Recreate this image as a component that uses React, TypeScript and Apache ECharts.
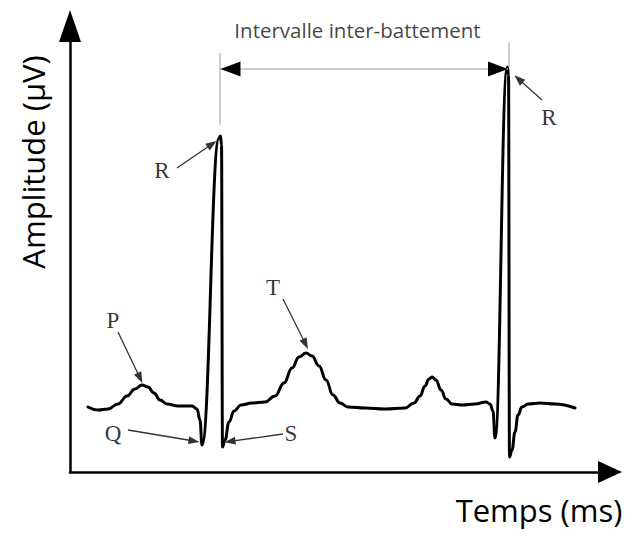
import React, { useEffect, useRef } from "react";
import * as echarts from "echarts";

// ECG trace (time in ms, amplitude in µV)
const timeMs = [
  36, 56, 76, 96, 114, 130, 144, 156, 168, 180, 194, 216, 244, 254, 260, 264,
  298, 301, 303, 305, 310, 318, 328, 342, 364, 390, 410, 428, 444, 458, 472,
  484, 498, 512, 526, 540, 556, 590, 630, 670, 688, 700, 710, 718, 724, 732,
  742, 752, 764, 784, 810, 832, 840, 846, 850, 874, 875, 877, 879, 884, 890,
  896, 904, 916, 940, 970, 1010,
];
const amplitudeUv = [
  0, -15, -10, 15, 55, 90, 110, 100, 70, 35, 15, 5, 5, -10, -65, -190, 1345,
  1355, 1310, -200, -165, -75, -20, 10, 20, 25, 55, 120, 195, 250, 270, 255,
  205, 135, 60, 20, 0, -5, -10, -5, 20, 55, 105, 140, 150, 135, 85, 40, 15,
  10, 15, 25, 15, -20, -155, 1685, 1700, 1660, -250, -215, -125, -40, 0, 15,
  20, 15, -5,
];

// Wave labels
const waveNames = ["P", "R", "T", "Q", "S", "R"];
const waveLabelX = [86, 184, 406, 86, 442, 958];
const waveLabelY = [435, 1185, 600, -130, -130, 1450];
// Pointer arrows (start -> tip)
const arrowStartX = [96, 214, 426, 116, 426, 944];
const arrowStartY = [375, 1195, 540, -115, -135, 1535];
const arrowTipX = [140, 284, 471, 248, 320, 897];
const arrowTipY = [145, 1315, 315, -170, -172, 1640];

// Inter-beat interval
const intervalTitle = "Intervalle inter-battement";
const intervalStartX = 301;
const intervalEndX = 876;
const intervalY = 1690;
const guideTopY = [1770, 1825];
const guideBottomY = [1410, 1700];
const intervalTitlePos = [575, 1885];

const X_MIN = 0;
const X_MAX = 1080;
const Y_MIN = -325;
const Y_MAX = 1905;

export default function App() {
  const ref = useRef<HTMLDivElement>(null);
  useEffect(() => {
    if (!ref.current) return;
    const chart = echarts.init(ref.current, null, { renderer: "svg" });
    const ecg = timeMs.map((t, i) => [t, amplitudeUv[i]]);
    const pointers = arrowStartX.map((x, i) => [
      { coord: [x, arrowStartY[i]], symbol: "none" },
      {
        coord: [arrowTipX[i], arrowTipY[i]],
        symbol: "triangle",
        symbolSize: [8, 11],
      },
    ]);
    const labels = waveNames.map((n, i) => ({
      name: n,
      value: [waveLabelX[i], waveLabelY[i]],
    }));
    const headStyle = { lineStyle: { color: "#000", width: 1 } };
    chart.setOption({
      animation: false,
      grid: { left: 70, right: 19, top: 26, bottom: 64 },
      xAxis: {
        type: "value",
        min: X_MIN,
        max: X_MAX,
        axisLine: {
          show: true,
          onZero: false,
          symbol: ["none", "triangle"],
          symbolSize: [22, 24],
          lineStyle: { color: "#000", width: 2.5 },
        },
        axisTick: { show: false },
        axisLabel: { show: false },
        splitLine: { show: false },
      },
      yAxis: {
        type: "value",
        min: Y_MIN,
        max: Y_MAX,
        axisLine: {
          show: true,
          onZero: false,
          symbol: ["none", "triangle"],
          symbolSize: [22, 32],
          lineStyle: { color: "#000", width: 2.5 },
        },
        axisTick: { show: false },
        axisLabel: { show: false },
        splitLine: { show: false },
      },
      graphic: [
        {
          type: "text",
          x: 33,
          y: 162,
          rotation: Math.PI / 2,
          style: {
            text: "Amplitude (µV)",
            font: "31px 'Open Sans'",
            fill: "#000",
            align: "center",
            verticalAlign: "middle",
          },
        },
        {
          type: "text",
          x: 539,
          y: 510,
          style: {
            text: "Temps (ms)",
            font: "31px 'Open Sans'",
            fill: "#000",
            align: "center",
            verticalAlign: "middle",
          },
        },
      ],
      series: [
        {
          name: "ECG",
          type: "line",
          data: ecg,
          showSymbol: false,
          smooth: 0.45,
          smoothMonotone: "x",
          lineStyle: { color: "#000", width: 3, join: "round", cap: "round" },
          silent: true,
          z: 3,
        },
        {
          name: "interval",
          type: "line",
          data: [],
          silent: true,
          markLine: {
            silent: true,
            symbol: "none",
            label: { show: false },
            emphasis: { disabled: true },
            lineStyle: { color: "#bdbdbd", width: 1.5, type: "solid" },
            data: [
              [
                { coord: [intervalStartX - 1, guideTopY[0]] },
                { coord: [intervalStartX - 1, guideBottomY[0]] },
              ],
              [
                { coord: [intervalEndX + 2, guideTopY[1]] },
                { coord: [intervalEndX + 2, guideBottomY[1]] },
              ],
              [
                { coord: [intervalStartX, intervalY] },
                { coord: [intervalEndX, intervalY] },
              ],
              [
                { coord: [intervalStartX + 30, intervalY], symbol: "none", ...headStyle },
                {
                  coord: [intervalStartX + 20, intervalY],
                  symbol: "triangle",
                  symbolSize: [15, 20],
                  itemStyle: { color: "#000" },
                },
              ],
              [
                { coord: [intervalEndX - 30, intervalY], symbol: "none", ...headStyle },
                {
                  coord: [intervalEndX - 20, intervalY],
                  symbol: "triangle",
                  symbolSize: [15, 20],
                  itemStyle: { color: "#000" },
                },
              ],
            ],
          },
          z: 2,
        },
        {
          name: "pointers",
          type: "line",
          data: [],
          silent: true,
          markLine: {
            silent: true,
            label: { show: false },
            emphasis: { disabled: true },
            lineStyle: { color: "#333", width: 1.3, type: "solid" },
            itemStyle: { color: "#111" },
            data: pointers,
          },
          z: 4,
        },
        {
          name: "waves",
          type: "scatter",
          data: labels,
          symbolSize: 0,
          silent: true,
          label: {
            show: true,
            position: "inside",
            formatter: "{b}",
            fontFamily: "'Liberation Serif'",
            fontSize: 23,
            color: "#000",
          },
          z: 5,
        },
        {
          name: "title",
          type: "scatter",
          data: [{ name: intervalTitle, value: intervalTitlePos }],
          symbolSize: 0,
          silent: true,
          label: {
            show: true,
            position: "inside",
            formatter: "{b}",
            fontFamily: "'Open Sans'",
            fontSize: 20.5,
            color: "#111",
          },
        },
      ],
    });
    return () => chart.dispose();
  }, []);
  return (
    <div
      ref={ref}
      style={{ position: "absolute", left: 0, top: 0, width: 629, height: 536 }}
    />
  );
}
